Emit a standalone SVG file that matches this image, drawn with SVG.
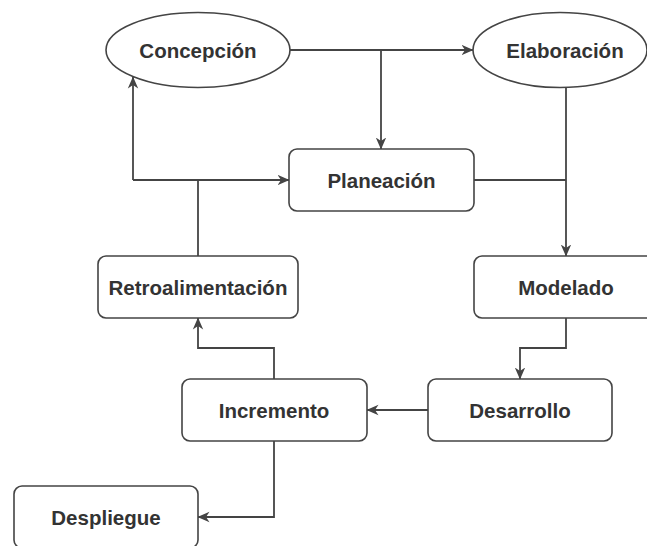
<svg xmlns="http://www.w3.org/2000/svg" width="647" height="546" viewBox="0 0 647 546">
  <style>
    .node { fill: #ffffff; stroke: #444444; stroke-width: 1.6; }
    .label { font-family: "Liberation Sans", Arial, Helvetica, sans-serif; font-weight: bold; font-size: 20.5px; fill: #333333; text-anchor: middle; }
    .edge { fill: none; stroke: #444444; stroke-width: 1.8; }
  </style>
  <defs>
    <marker id="arrow" viewBox="0 0 12 12" refX="11.5" refY="6" markerWidth="12" markerHeight="12" markerUnits="userSpaceOnUse" orient="auto">
      <path d="M0,0.8 L12,6 L0,11.2 L3.5,6 z" fill="#444444"/>
    </marker>
  </defs>
  <rect width="647" height="546" fill="#ffffff"/>

  <g id="connectors">
    <!-- Concepción → Elaboración -->
    <path class="edge" d="M290,50 H473" marker-end="url(#arrow)"/>
    <!-- branch down to Planeación -->
    <path class="edge" d="M381,50 V149" marker-end="url(#arrow)"/>
    <!-- Elaboración → Modelado -->
    <path class="edge" d="M566,87 V256" marker-end="url(#arrow)"/>
    <!-- Planeación joins Elaboración line -->
    <path class="edge" d="M474,180 H566"/>
    <!-- Modelado → Desarrollo -->
    <path class="edge" d="M566,318 V348 H520 V379" marker-end="url(#arrow)"/>
    <!-- Desarrollo → Incremento -->
    <path class="edge" d="M428,410 H367" marker-end="url(#arrow)"/>
    <!-- Incremento → Retroalimentación -->
    <path class="edge" d="M274,379 V348 H198 V318" marker-end="url(#arrow)"/>
    <!-- Incremento → Despliegue -->
    <path class="edge" d="M274,441 V517 H198" marker-end="url(#arrow)"/>
    <!-- Retroalimentación → Planeación / Concepción -->
    <path class="edge" d="M198,256 V180"/>
    <path class="edge" d="M133,180 H289" marker-end="url(#arrow)"/>
    <path class="edge" d="M133,180 V77" marker-end="url(#arrow)"/>
  </g>

  <g id="concepcion">
    <ellipse class="node" cx="198" cy="50" rx="92" ry="37.5"/>
    <text class="label" x="198" y="58">Concepción</text>
  </g>
  <g id="elaboracion">
    <ellipse class="node" cx="560" cy="50" rx="87" ry="37.5"/>
    <text class="label" x="565" y="58">Elaboración</text>
  </g>
  <g id="planeacion">
    <rect class="node" x="289" y="149" width="185" height="62" rx="8"/>
    <text class="label" x="381.5" y="188">Planeación</text>
  </g>
  <g id="retroalimentacion">
    <rect class="node" x="98" y="256" width="200" height="62" rx="8"/>
    <text class="label" x="198" y="295">Retroalimentación</text>
  </g>
  <g id="modelado">
    <rect class="node" x="474" y="256" width="184" height="62" rx="8"/>
    <text class="label" x="566" y="295">Modelado</text>
  </g>
  <g id="incremento">
    <rect class="node" x="182" y="379" width="185" height="62" rx="8"/>
    <text class="label" x="274" y="418">Incremento</text>
  </g>
  <g id="desarrollo">
    <rect class="node" x="428" y="379" width="184" height="62" rx="8"/>
    <text class="label" x="520" y="418">Desarrollo</text>
  </g>
  <g id="despliegue">
    <rect class="node" x="14" y="486" width="184" height="62" rx="8"/>
    <text class="label" x="106" y="525">Despliegue</text>
  </g>
</svg>
